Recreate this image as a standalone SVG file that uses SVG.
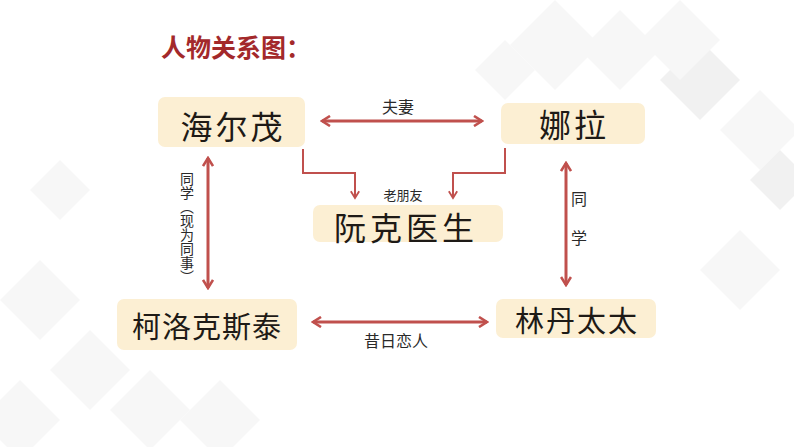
<svg xmlns="http://www.w3.org/2000/svg" width="794" height="447" viewBox="0 0 794 447">
<style>
.bg{fill:#f1f1f1}
.bg2{fill:#f7f7f7}
.box{fill:#fcefd3}
.name{font-family:"Noto Sans CJK SC","Noto Sans CJK TC",sans-serif;fill:#1e1a16;text-anchor:middle;dominant-baseline:central}
.lbl{font-family:"Noto Sans CJK SC",sans-serif;fill:#2a2a2a;text-anchor:middle;dominant-baseline:central}
.arr{stroke:#c0504d;stroke-width:3;fill:none}
.elb{stroke:#c0504d;stroke-width:2;fill:none}
</style>
<defs>
<marker id="ah" viewBox="0 0 12 12" refX="10" refY="6" markerWidth="12" markerHeight="12" markerUnits="userSpaceOnUse" orient="auto-start-reverse">
<path d="M2,1 L10,6 L2,11" stroke="#c0504d" stroke-width="2.6" fill="none"/>
</marker>
<marker id="ah2" viewBox="0 0 12 12" refX="10" refY="6" markerWidth="10" markerHeight="10" markerUnits="userSpaceOnUse" orient="auto">
<path d="M2,1 L10,6 L2,11" stroke="#c0504d" stroke-width="2.2" fill="none"/>
</marker>
</defs>
<rect width="794" height="447" fill="#ffffff"/>
<g id="background">
<polygon class="bg2" points="555,0 600,45 555,90 510,45"/>
<polygon class="bg2" points="505,40 535,70 505,100 475,70"/>
<polygon class="bg2" points="620,10 660,50 620,90 580,50"/>
<polygon class="bg" points="700,40 740,80 700,120 660,80"/>
<polygon class="bg2" points="760,90 800,130 760,170 720,130"/>
<polygon class="bg" points="780,150 810,180 780,210 750,180"/>
<polygon class="bg2" points="680,0 720,40 680,80 640,40"/>
<polygon class="bg2" points="740,230 780,270 740,310 700,270"/>
<polygon class="bg2" points="40,260 80,300 40,340 0,300"/>
<polygon class="bg2" points="90,330 130,370 90,410 50,370"/>
<polygon class="bg2" points="150,370 190,410 150,450 110,410"/>
<polygon class="bg2" points="220,380 260,420 220,460 180,420"/>
<polygon class="bg2" points="20,380 60,420 20,460 -20,420"/>
<polygon class="bg2" points="60,160 90,190 60,220 30,190"/>
</g>
<g id="title">
<text x="161" y="46" font-family="Noto Sans CJK SC, sans-serif" font-size="25" font-weight="bold" fill="#a3292b" dominant-baseline="central">人物关系图：</text>
</g>
<g id="connectors">
<line class="arr" x1="322" y1="121" x2="482" y2="121" marker-start="url(#ah)" marker-end="url(#ah)"/>
<line class="arr" x1="313" y1="322" x2="487" y2="322" marker-start="url(#ah)" marker-end="url(#ah)"/>
<line class="arr" x1="208" y1="158" x2="208" y2="288" marker-start="url(#ah)" marker-end="url(#ah)"/>
<line class="arr" x1="566" y1="163" x2="566" y2="285" marker-start="url(#ah)" marker-end="url(#ah)"/>
<polyline class="elb" points="303,149 303,173 355,173 355,198" marker-end="url(#ah2)"/>
<polyline class="elb" points="505,148 505,173 453,173 453,198" marker-end="url(#ah2)"/>
<text class="lbl" x="398" y="106" font-size="16">夫妻</text>
<text class="lbl" x="396" y="340" font-size="16">昔日恋人</text>
<text class="lbl" x="403" y="194" font-size="13">老朋友</text>
<text class="lbl" x="579" y="198" font-size="16">同</text>
<text class="lbl" x="579" y="237" font-size="16">学</text>
<text x="187" y="172" font-family="Noto Sans CJK SC, sans-serif" font-size="14" fill="#2a2a2a" style="writing-mode:vertical-rl;text-orientation:upright">同学（现为同事）</text>
</g>
<g id="node-haiermao">
<rect class="box" x="158" y="97" width="147" height="50" rx="7"/>
<text class="name" x="233" y="125" font-size="32" letter-spacing="3">海尔茂</text>
</g>
<g id="node-nala">
<rect class="box" x="501" y="103" width="144" height="41" rx="7"/>
<text class="name" x="574" y="123" font-size="32" letter-spacing="3">娜拉</text>
</g>
<g id="node-ruanke">
<rect class="box" x="313" y="205" width="190" height="37" rx="7"/>
<text class="name" x="406" y="226" font-size="32" letter-spacing="4">阮克医生</text>
</g>
<g id="node-keluokesitai">
<rect class="box" x="117" y="299" width="180" height="51" rx="7"/>
<text class="name" x="207" y="325" font-size="29" letter-spacing="1">柯洛克斯泰</text>
</g>
<g id="node-lindan">
<rect class="box" x="496" y="299" width="160" height="39" rx="7"/>
<text class="name" x="577" y="319" font-size="29" letter-spacing="2">林丹太太</text>
</g>
</svg>
